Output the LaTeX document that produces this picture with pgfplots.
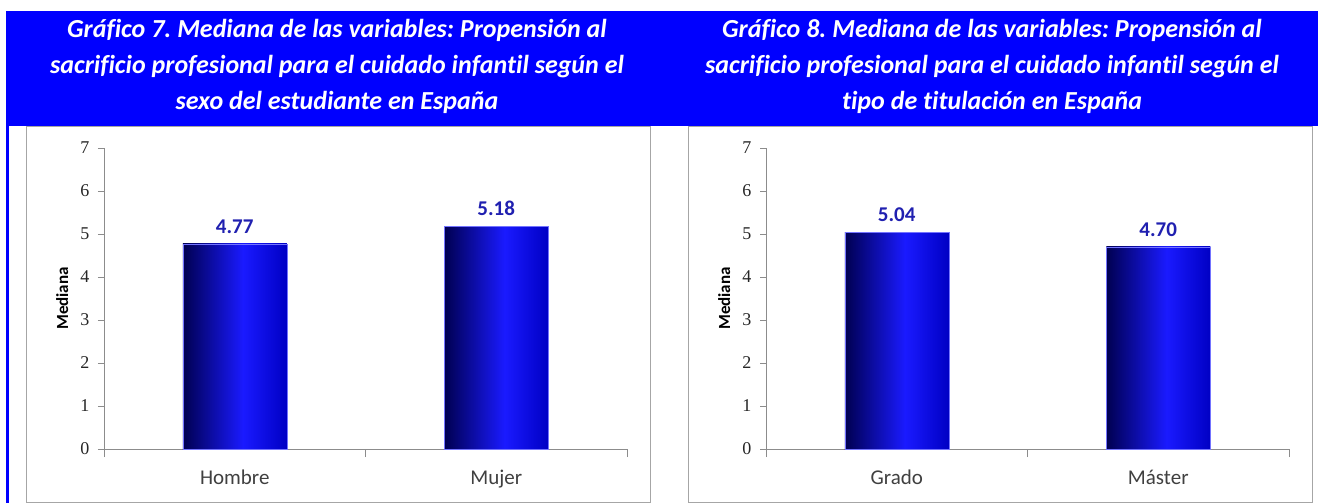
\documentclass[border=0pt]{standalone}
\usepackage{fontspec}
\setmainfont{Carlito}[Ligatures=NoCommon]
\newfontfamily\tickfont{Liberation Serif}
\usepackage{pgfplots}
\pgfplotsset{compat=1.18}
\frenchspacing

\definecolor{hdrblue}{HTML}{0000FF}
\definecolor{navy}{HTML}{000050}
\definecolor{brightb}{HTML}{1A1AFF}
\definecolor{rightb}{HTML}{0000C4}
\definecolor{vallab}{HTML}{2020B0}
\definecolor{axgray}{HTML}{8C8C8C}
\definecolor{boxgray}{HTML}{A6A6A6}

\pgfdeclarehorizontalshading{barshade}{100bp}{color(0bp)=(navy); color(25bp)=(navy); color(54bp)=(brightb); color(75bp)=(rightb); color(100bp)=(rightb)}

\pgfplotsset{
  medstyle/.style={
    anchor=south west,
    scale only axis, width=523pt, height=301pt,
    xmin=0, xmax=2, ymin=0, ymax=7,
    clip=false,
    axis x line*=bottom, axis y line*=left,
    axis line style={draw=axgray, line width=1pt},
    tick align=outside,
    major tick length=6pt,
    ytick={0,...,7},
    ytick style={draw=axgray, line width=0.8pt},
    xtick={0.5,1.5},
    xtick style={draw=none},
    extra x ticks={0,1,2}, extra x tick labels={},
    extra x tick style={xtick style={draw=axgray, line width=0.8pt}, major tick length=8pt},
    /pgf/number format/assume math mode=true,
    yticklabel style={font=\tickfont\fontsize{18}{18}\selectfont, color=black!85, xshift=-5pt},
    xticklabel style={font=\fontsize{21}{21}\selectfont, color=black!75, text height=14pt, text depth=4pt, yshift=-12pt},
    ylabel={Mediana},
    ylabel style={font=\bfseries\fontsize{17}{17}\selectfont, at={(axis description cs:-0.080,0.5)}, anchor=center},
    nodes near coords={\pgfmathprintnumber[fixed,fixed zerofill,precision=2]{\pgfplotspointmeta}},
    nodes near coords style={font=\bfseries\fontsize{21}{21}\selectfont, color=vallab, yshift=7pt},
  },
  medbar/.style={ybar, bar width=104pt, bar shift=0pt, draw=blue!55, line width=0.5pt, fill=brightb, shade, shading=barshade},
}

\begin{document}
\begin{tikzpicture}[x=1pt,y=1pt]
\path[use as bounding box, fill=white] (0,0) rectangle (1319,503);
% headers
\fill[hdrblue] (6,377) rectangle (1318,492);
\fill[hdrblue] (6,0) rectangle (9,377);
% chart boxes
\draw[boxgray, line width=1pt] (26,1) rectangle (650,376);
\draw[boxgray, line width=1pt] (688,1) rectangle (1312,376);
% titles
\node[text=white, font=\bfseries\itshape\fontsize{26}{36}\selectfont, align=center] at (337,437)
  {Gráfico 7. Mediana de las variables: Propensión al\\sacrificio profesional para el cuidado infantil según el\\sexo del estudiante en España};
\node[text=white, font=\bfseries\itshape\fontsize{26}{36}\selectfont, align=center] at (992,437)
  {Gráfico 8. Mediana de las variables: Propensión al\\sacrificio profesional para el cuidado infantil según el\\tipo de titulación en España};

\begin{axis}[medstyle, at={(104pt,54pt)}, xticklabels={Hombre,Mujer}]
\addplot[medbar] coordinates {(0.5,4.77)};
\addplot[medbar] coordinates {(1.5,5.18)};
\end{axis}

\begin{axis}[medstyle, at={(766pt,54pt)}, xticklabels={Grado,Máster}]
\addplot[medbar] coordinates {(0.5,5.04)};
\addplot[medbar] coordinates {(1.5,4.70)};
\end{axis}
\end{tikzpicture}
\end{document}
